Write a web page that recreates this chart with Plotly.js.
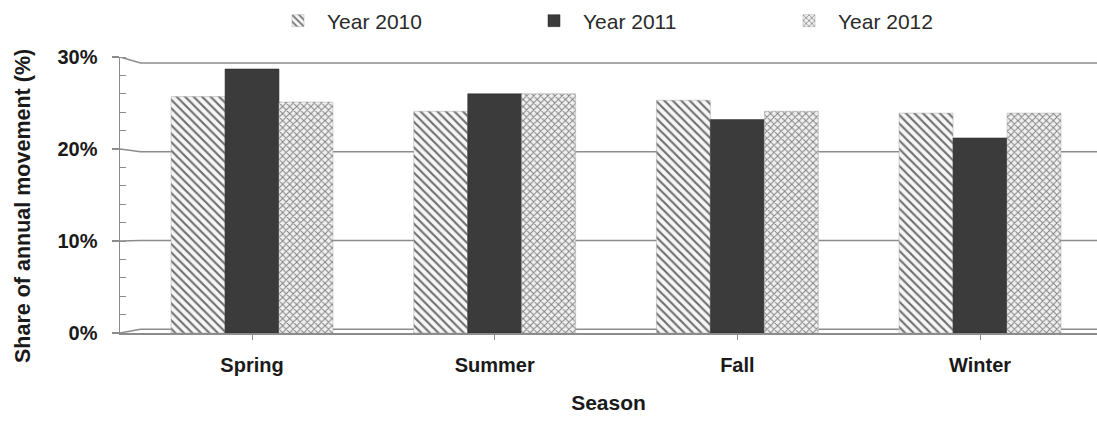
<!DOCTYPE html>
<html>
<head>
<meta charset="utf-8">
<script src="https://cdn.plot.ly/plotly-3.0.1.min.js"></script>
<style>
  html, body { margin: 0; padding: 0; background: #ffffff; }
  #chart { width: 1097px; height: 421px; }
</style>
</head>
<body>
<div id="chart"></div>
<script>
// Seasonal share of annual movement, by year
const seasons = ['Spring', 'Summer', 'Fall', 'Winter'];
const share2010 = [0.257, 0.241, 0.253, 0.239];
const share2011 = [0.287, 0.260, 0.232, 0.212];
const share2012 = [0.251, 0.260, 0.241, 0.239];
const yTickVals = [0, 0.1, 0.2, 0.3];
const yTickText = ['0%', '10%', '20%', '30%'];
const yTitle = 'Share of annual movement (%)';

const FONT = '"Liberation Sans", Arial, sans-serif';
const GRID = '#8c8c8c';
const INK = '#1a1a1a';

// back-wall gridlines, offset from the front axis to give a shallow depth effect
const wallLeft = 0.021;
function wallY(v) { return 0.004 + v * 0.965; }
const gridShapes = yTickVals.map(v => ({
  type: 'path',
  xref: 'paper', yref: 'y',
  path: `M0,${v} L${wallLeft},${wallY(v)} L1,${wallY(v)}`,
  line: { color: GRID, width: 1.5 },
  layer: 'below'
}));

const traces = [
  {
    type: 'bar', name: 'Year 2010', x: seasons, y: share2010, legend: 'legend',
    marker: {
      color: '#fafafa',
      line: { color: '#a8a8a8', width: 0.5 },
      pattern: { shape: '\\', fgcolor: '#6e6e6e', bgcolor: '#f6f6f6', size: 6, solidity: 0.35 }
    },
    hoverinfo: 'skip'
  },
  {
    type: 'bar', name: 'Year 2011', x: seasons, y: share2011, legend: 'legend2',
    marker: { color: '#3b3b3b', line: { color: '#2a2a2a', width: 0.5 } },
    hoverinfo: 'skip'
  },
  {
    type: 'bar', name: 'Year 2012', x: seasons, y: share2012, legend: 'legend3',
    marker: {
      color: '#eeeeee',
      line: { color: '#a8a8a8', width: 0.5 },
      pattern: { shape: 'x', fgcolor: '#808080', bgcolor: '#f0f0f0', size: 5, solidity: 0.35 }
    },
    hoverinfo: 'skip'
  }
];

function legendAt(left) {
  return {
    xref: 'container', yref: 'container',
    x: left / 1097, xanchor: 'left',
    y: 1 - 21 / 421, yanchor: 'middle',
    itemwidth: 48,
    bgcolor: 'rgba(0,0,0,0)',
    font: { family: FONT, size: 21, color: '#2a2a2a' }
  };
}

const layout = {
  width: 1097, height: 421,
  margin: { l: 120, r: 0, t: 57, b: 88, pad: 0, autoexpand: false },
  paper_bgcolor: '#ffffff', plot_bgcolor: '#ffffff',
  font: { family: FONT, color: INK },
  barmode: 'group',
  bargap: 0.333, bargroupgap: 0,
  showlegend: true,
  legend: legendAt(269),
  legend2: legendAt(525),
  legend3: legendAt(780),
  xaxis: {
    type: 'category',
    range: [-0.544, 3.482],
    showgrid: false, zeroline: false,
    showline: true, linecolor: GRID, linewidth: 1.5,
    ticks: 'outside', ticklen: 5, tickcolor: GRID, tickwidth: 1,
    ticklabelstandoff: 8,
    tickfont: { family: FONT, size: 20, color: INK, weight: 'bold' },
    title: { text: 'Season', standoff: 21, font: { family: FONT, size: 21, color: INK, weight: 'bold' } }
  },
  yaxis: {
    range: [0, 0.30],
    tickvals: yTickVals, ticktext: yTickText,
    showgrid: false, zeroline: false,
    showline: true, linecolor: GRID, linewidth: 1.5,
    ticks: 'outside', ticklen: 7, tickcolor: GRID, tickwidth: 1.5,
    minor: { dtick: 0.02, ticks: 'inside', ticklen: 6, tickcolor: GRID, tickwidth: 1, showgrid: false },
    ticklabelstandoff: 10,
    tickfont: { family: FONT, size: 20, color: INK, weight: 'bold' }
  },
  // vertical axis title, set beside the tick labels
  annotations: [{
    text: yTitle,
    xref: 'paper', yref: 'paper',
    x: (23 - 120) / 977, y: 0.46,
    xanchor: 'center', yanchor: 'middle',
    textangle: -90, showarrow: false,
    font: { family: FONT, size: 21.5, color: INK, weight: 'bold' }
  }],
  shapes: gridShapes
};

Plotly.newPlot('chart', traces, layout, { displayModeBar: false, staticPlot: true });
</script>
</body>
</html>
